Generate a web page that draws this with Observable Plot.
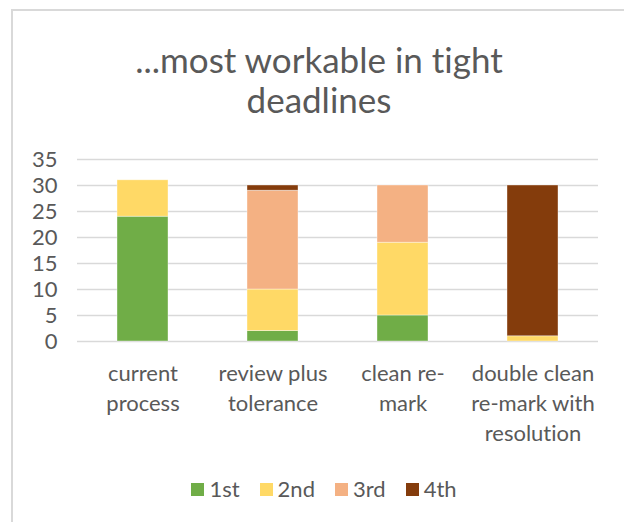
<!DOCTYPE html>
<html>
<head>
<meta charset="utf-8">
<script src="https://cdn.jsdelivr.net/npm/d3@7"></script>
<script src="https://cdn.jsdelivr.net/npm/@observablehq/plot@0.6"></script>
<style>
  html, body { margin: 0; padding: 0; background: #fff; }
  #wrap { position: relative; width: 624px; height: 522px; overflow: hidden; font-family: Lato, "Open Sans", sans-serif; color: #595959; font-variant-ligatures: none; }
  #border { position: absolute; left: 11px; top: 9px; width: 700px; height: 600px; border: 2px solid #d9d9d9; box-sizing: border-box; }
  #title { position: absolute; left: 0; top: 39px; width: 638px; text-align: center; font-size: 35px; line-height: 40px; }
  #chart { position: absolute; left: 0; top: 0; }
  #legend { position: absolute; left: 0; top: 476px; width: 648px; display: flex; justify-content: center; font-size: 22px; line-height: 26px; }
  .item { display: flex; align-items: center; margin: 0 10px; }
  .sw { width: 13px; height: 13px; margin-right: 5px; }
</style>
</head>
<body>
<div id="wrap">
  <div id="border"></div>
  <div id="title">...most workable in tight<br>deadlines</div>
  <div id="chart"></div>
  <div id="legend"></div>
</div>
<script>
const categories = ["current process", "review plus tolerance", "clean re-mark", "double clean re-mark with resolution"];
const categoryLabels = ["current\nprocess", "review plus\ntolerance", "clean re-\nmark", "double clean\nre-mark with\nresolution"];
const seriesNames = ["1st", "2nd", "3rd", "4th"];
const seriesColors = ["#70AD47", "#FFD966", "#F4B183", "#843C0C"];
const first = [24, 2, 5, 0];
const second = [7, 8, 14, 1];
const third = [0, 19, 11, 0];
const fourth = [0, 1, 0, 29];
const yTicks = [0, 5, 10, 15, 20, 25, 30, 35];

const seriesValues = [first, second, third, fourth];
const rows = [];
seriesNames.forEach((s, si) => {
  categories.forEach((c, ci) => {
    rows.push({category: c, series: s, value: seriesValues[si][ci]});
  });
});
const labelRows = categories.map((c, i) => ({category: c, label: categoryLabels[i]}));

const chart = Plot.plot({
  width: 624,
  height: 522,
  marginTop: 159,
  marginBottom: 181,
  marginLeft: 77,
  marginRight: 26,
  style: {fontFamily: "Lato, 'Open Sans', sans-serif", fontSize: "22px", color: "#595959", background: "transparent"},
  x: {domain: categories, paddingInner: 0.61, paddingOuter: 0.305, axis: null},
  y: {domain: [0, 35], ticks: yTicks, tickSize: 0, tickPadding: 20, label: null, grid: false},
  color: {domain: seriesNames, range: seriesColors},
  marks: [
    Plot.ruleY(yTicks, {stroke: "#d9d9d9", strokeWidth: 1.5}),
    Plot.barY(rows, Plot.stackY({x: "category", y: "value", fill: "series", stroke: "#ffffff", strokeOpacity: 0.5, strokeWidth: 0.75})),
    Plot.text(labelRows, {x: "category", text: "label", frameAnchor: "bottom", lineAnchor: "top", dy: 18, lineHeight: 1.36, fontSize: 22, fill: "#595959"})
  ]
});
document.getElementById("chart").appendChild(chart);

const legend = document.getElementById("legend");
seriesNames.forEach((s, i) => {
  const item = document.createElement("div");
  item.className = "item";
  const sw = document.createElement("div");
  sw.className = "sw";
  sw.style.background = seriesColors[i];
  const t = document.createElement("span");
  t.textContent = s;
  item.appendChild(sw);
  item.appendChild(t);
  legend.appendChild(item);
});
</script>
</body>
</html>
